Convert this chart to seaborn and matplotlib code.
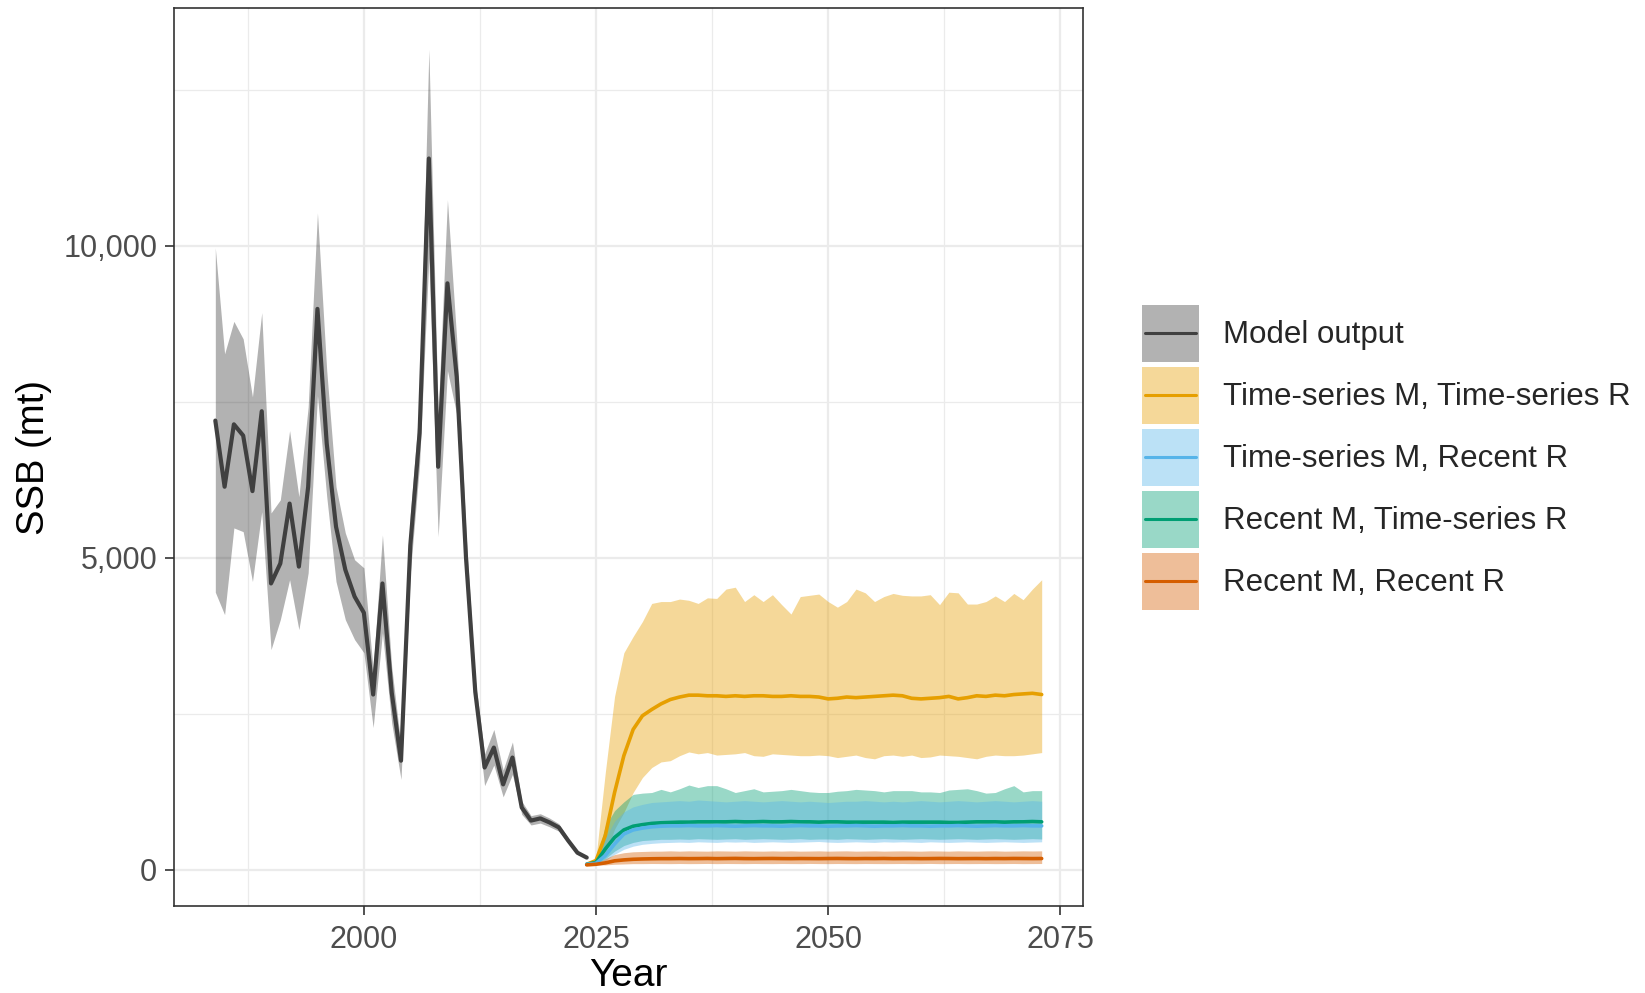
import matplotlib
matplotlib.use('Agg')
import numpy as np
import pandas as pd
import matplotlib.pyplot as plt
import seaborn as sns
from matplotlib.patches import Rectangle
from matplotlib.lines import Line2D
from matplotlib.legend_handler import HandlerBase
from matplotlib.ticker import MultipleLocator, FuncFormatter

sns.set_theme(style='white')
plt.rcParams['font.family'] = ['Liberation Sans', 'DejaVu Sans']

# ---- historical model output (SSB, mt) ----
hist_years = list(range(1984, 2025))
hist_ssb = [7200, 6140, 7140, 6960, 6070, 7350, 4590, 4910, 5870, 4860,
            6140, 8990, 6830, 5500, 4810, 4380, 4120, 2810, 4590, 2840,
            1750, 5200, 7000, 11400, 6460, 9400, 7900, 5000, 2850, 1640,
            1960, 1370, 1800, 1000, 790, 825, 760, 680, 470, 275, 197]
hist_lo = [4450, 4090, 5480, 5420, 4620, 5740, 3530, 4010, 4650, 3850,
           4760, 7600, 5980, 4620, 4010, 3690, 3480, 2280, 3800, 2350,
           1450, 4750, 6500, 9800, 5340, 8000, 7300, 4650, 2650, 1350,
           1680, 1170, 1530, 890, 720, 750, 690, 620, 430, 250, 180]
hist_hi = [9970, 8270, 8790, 8510, 7580, 8930, 5720, 5930, 7040, 5980,
           7420, 10530, 8000, 6140, 5400, 4970, 4840, 3210, 5370, 3250,
           1990, 5700, 7500, 13150, 7300, 10740, 8500, 5400, 3050, 1860,
           2250, 1600, 2050, 1100, 870, 900, 830, 740, 510, 300, 215]

# ---- projections 2024-2073 ----
proj_years = list(range(2024, 2074))

tsm_tsr_mid = [90, 150, 550, 1240, 1830, 2250, 2470, 2570, 2660, 2730,
               2770, 2800, 2800, 2790, 2790, 2780, 2790, 2780, 2790, 2790,
               2780, 2780, 2790, 2780, 2780, 2770, 2740, 2750, 2770, 2760,
               2770, 2780, 2790, 2800, 2790, 2750, 2740, 2750, 2760, 2780,
               2740, 2760, 2790, 2780, 2800, 2790, 2810, 2820, 2830, 2810]
tsm_tsr_lo = [90, 100, 250, 655, 920, 1240, 1480, 1640, 1730, 1750,
              1830, 1890, 1860, 1880, 1840, 1850, 1860, 1880, 1830, 1820,
              1860, 1850, 1840, 1830, 1830, 1840, 1830, 1800, 1820, 1840,
              1800, 1780, 1830, 1840, 1820, 1840, 1800, 1810, 1840, 1830,
              1820, 1800, 1780, 1820, 1840, 1830, 1830, 1840, 1860, 1880]
tsm_tsr_hi = [90, 200, 1560, 2780, 3480, 3740, 3980, 4270, 4300, 4300,
              4340, 4320, 4270, 4360, 4350, 4500, 4530, 4300, 4410, 4300,
              4410, 4250, 4100, 4380, 4400, 4420, 4300, 4210, 4300, 4500,
              4440, 4300, 4380, 4430, 4400, 4390, 4390, 4410, 4250, 4450,
              4440, 4260, 4260, 4300, 4390, 4300, 4430, 4330, 4500, 4650]

tsm_recr_mid = [90, 105, 230, 415, 575, 640, 670, 690, 700, 705,
                705, 710, 705, 705, 710, 705, 700, 705, 710, 705,
                705, 700, 705, 710, 705, 705, 700, 705, 705, 710,
                705, 700, 705, 705, 710, 705, 705, 700, 705, 705,
                710, 705, 700, 705, 710, 705, 705, 710, 705, 705]
tsm_recr_lo = [80, 90, 150, 250, 330, 380, 410, 425, 435, 440,
               445, 440, 450, 445, 440, 450, 445, 450, 440, 445,
               450, 445, 440, 445, 450, 455, 445, 440, 445, 450,
               445, 440, 450, 445, 450, 445, 440, 450, 445, 440,
               445, 450, 445, 440, 445, 450, 445, 440, 445, 450]
tsm_recr_hi = [90, 130, 500, 780, 930, 1010, 1050, 1080, 1090, 1100,
               1110, 1100, 1120, 1110, 1100, 1090, 1100, 1110, 1100, 1090,
               1100, 1110, 1100, 1090, 1100, 1090, 1080, 1090, 1100, 1100,
               1110, 1100, 1090, 1100, 1090, 1100, 1110, 1100, 1090, 1100,
               1110, 1100, 1090, 1100, 1110, 1100, 1090, 1100, 1110, 1100]

recm_tsr_mid = [90, 120, 335, 520, 640, 700, 725, 745, 755, 760,
                765, 765, 770, 770, 770, 770, 775, 770, 770, 775,
                770, 770, 775, 770, 770, 765, 770, 770, 765, 765,
                765, 765, 765, 760, 765, 765, 765, 765, 765, 760,
                760, 765, 770, 770, 770, 765, 770, 770, 775, 770]
recm_tsr_lo = [80, 95, 180, 300, 390, 440, 470, 480, 490, 490,
               495, 490, 500, 495, 490, 495, 500, 490, 495, 500,
               495, 490, 495, 500, 490, 495, 495, 490, 500, 495,
               490, 495, 500, 495, 490, 495, 500, 495, 490, 495,
               500, 495, 490, 495, 500, 495, 490, 495, 500, 495]
recm_tsr_hi = [90, 150, 700, 950, 1090, 1210, 1230, 1240, 1290, 1250,
               1300, 1360, 1320, 1350, 1350, 1300, 1240, 1270, 1300, 1250,
               1260, 1270, 1290, 1270, 1250, 1240, 1240, 1260, 1270, 1290,
               1280, 1270, 1250, 1270, 1270, 1270, 1250, 1250, 1240, 1280,
               1290, 1300, 1270, 1230, 1240, 1300, 1350, 1250, 1270, 1270]

recm_recr_mid = [80, 90, 112, 145, 160, 170, 175, 178, 180, 180,
                 182, 180, 181, 183, 180, 182, 184, 181, 180, 182,
                 183, 181, 180, 182, 181, 180, 182, 183, 181, 180,
                 182, 181, 183, 180, 181, 182, 180, 181, 183, 182,
                 180, 181, 182, 180, 182, 181, 183, 182, 181, 182]
recm_recr_lo = [75, 80, 80, 90, 95, 100, 100, 102, 101, 100,
                102, 100, 101, 103, 100, 102, 101, 100, 102, 101,
                100, 102, 101, 100, 103, 101, 100, 102, 101, 100,
                102, 101, 100, 101, 102, 100, 101, 103, 100, 101,
                102, 100, 101, 102, 100, 101, 102, 100, 101, 102]
recm_recr_hi = [85, 100, 180, 245, 275, 290, 295, 300, 300, 305,
                300, 305, 302, 300, 305, 303, 300, 305, 302, 300,
                304, 301, 305, 300, 302, 305, 300, 303, 305, 300,
                302, 305, 300, 303, 305, 302, 300, 305, 303, 300,
                305, 302, 300, 304, 305, 300, 302, 305, 303, 305]

labels = ['Model output', 'Time-series M, Time-series R', 'Time-series M, Recent R',
          'Recent M, Time-series R', 'Recent M, Recent R']
colors = ['#404040', '#E69F00', '#56B4E9', '#009E73', '#D55E00']

scen = {
    'Time-series M, Time-series R': (tsm_tsr_mid, tsm_tsr_lo, tsm_tsr_hi),
    'Recent M, Time-series R': (recm_tsr_mid, recm_tsr_lo, recm_tsr_hi),
    'Time-series M, Recent R': (tsm_recr_mid, tsm_recr_lo, tsm_recr_hi),
    'Recent M, Recent R': (recm_recr_mid, recm_recr_lo, recm_recr_hi),
}
pal = dict(zip(labels, colors))

proj = pd.concat([pd.DataFrame({'Year': proj_years, 'SSB': v[0], 'lo': v[1], 'hi': v[2], 'Scenario': k})
                  for k, v in scen.items()], ignore_index=True)

fig = plt.figure(figsize=(16.45, 9.93), dpi=100)
ax = fig.add_axes([174 / 1645, 1 - 906 / 993, (1083 - 174) / 1645, (906 - 8.5) / 993])

# ribbons
ax.fill_between(hist_years, hist_lo, hist_hi, color='black', alpha=0.3, linewidth=0)
for k, d in proj.groupby('Scenario', sort=False):
    ax.fill_between(d['Year'], d['lo'], d['hi'], color=pal[k], alpha=0.4, linewidth=0)

# lines
sns.lineplot(x=hist_years, y=hist_ssb, color=colors[0], linewidth=3.0, ax=ax)
sns.lineplot(data=proj, x='Year', y='SSB', hue='Scenario', palette=pal,
             hue_order=list(scen.keys()), estimator=None, linewidth=2.6, legend=False, ax=ax)

# scales (ggplot-like 5% expansion)
all_lo = min(hist_lo + proj['lo'].tolist())
all_hi = max(hist_hi + proj['hi'].tolist())
pad = 0.05 * (all_hi - all_lo)
ax.set_ylim(all_lo - pad, all_hi + pad)
xpad = 0.05 * (proj_years[-1] - hist_years[0])
ax.set_xlim(hist_years[0] - xpad, proj_years[-1] + xpad)

ax.xaxis.set_major_locator(MultipleLocator(25))
ax.xaxis.set_minor_locator(MultipleLocator(12.5))
ax.yaxis.set_major_locator(MultipleLocator(5000))
ax.yaxis.set_minor_locator(MultipleLocator(2500))
ax.yaxis.set_major_formatter(FuncFormatter(lambda v, _: f'{v:,.0f}'))

ax.set_axisbelow(True)
ax.grid(which='major', color='#EBEBEB', linewidth=1.6)
ax.grid(which='minor', color='#EBEBEB', linewidth=0.9)
for s in ax.spines.values():
    s.set_color('#333333')
    s.set_linewidth(1.2)
    s.set_visible(True)

ax.tick_params(which='major', bottom=True, left=True, length=6.5, width=1.2,
               color='#333333', labelsize=22, labelcolor='#4D4D4D')
ax.tick_params(axis='x', which='major', pad=7)
ax.tick_params(axis='y', which='major', pad=5.5)
ax.tick_params(which='minor', length=0)

ax.set_xlabel('Year', fontsize=28, color='black', labelpad=2)
ax.set_ylabel('SSB (mt)', fontsize=27.5, color='black', labelpad=8)


# legend: filled square key with a line through its middle
class Key:
    def __init__(self, fill, alpha, line):
        self.fill, self.alpha, self.line = fill, alpha, line


class KeyHandler(HandlerBase):
    def create_artists(self, legend, h, xdescent, ydescent, width, height, fontsize, trans):
        r = Rectangle((-xdescent, -ydescent), width, height, facecolor=h.fill,
                      alpha=h.alpha, edgecolor='none', transform=trans)
        ym = -ydescent + height / 2
        ln = Line2D([-xdescent + 0.06 * width, -xdescent + 0.94 * width], [ym, ym],
                    color=h.line, linewidth=2.2, transform=trans)
        return [r, ln]


keys = [Key('black', 0.3, colors[0])] + [Key(c, 0.4, c) for c in colors[1:]]
fs = 22.5
fpx = fs * 100 / 72
hh = (57 / fpx - 0.245) / 0.65
fig.legend(keys, labels, handler_map={Key: KeyHandler()}, loc='center left',
           bbox_to_anchor=(1142 / 1645, 1 - 457 / 993),
           frameon=False, fontsize=fs, handlelength=57 / fpx, handleheight=hh,
           labelspacing=5 / fpx, handletextpad=24 / fpx, borderpad=0, borderaxespad=0)

fig.savefig('out.png', dpi=100, facecolor='white')
